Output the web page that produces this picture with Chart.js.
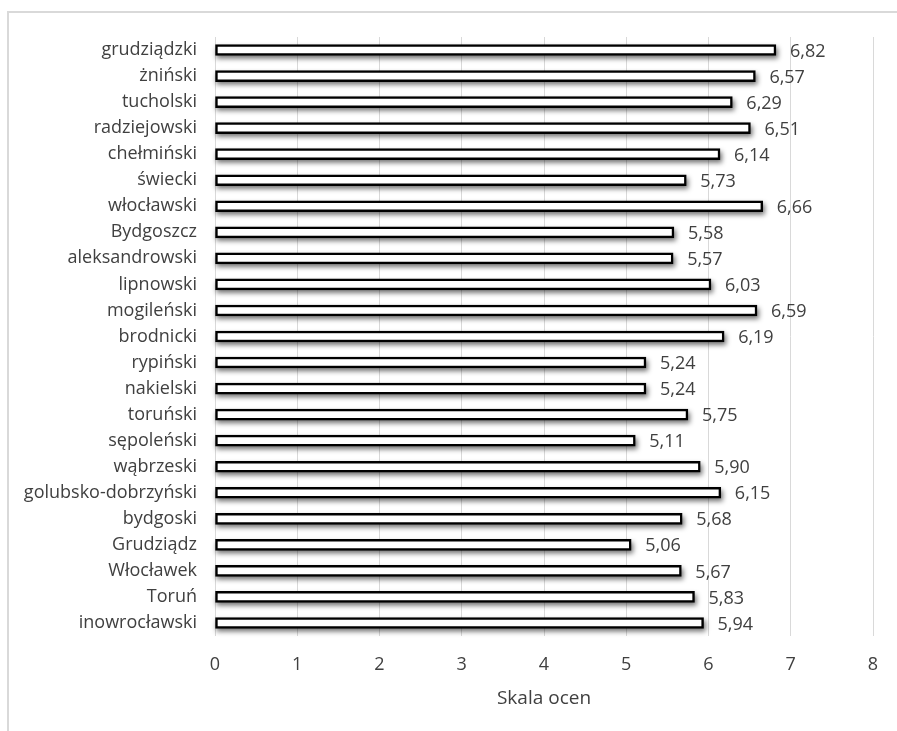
<!DOCTYPE html>
<html lang="pl">
<head>
<meta charset="utf-8">
<title>Skala ocen – powiaty</title>
<script src="https://cdn.jsdelivr.net/npm/chart.js@4/dist/chart.umd.min.js"></script>
<style>
  html, body { margin: 0; padding: 0; background: #fff; }
  #wrap { position: relative; width: 897px; height: 731px; }
  #frame {
    position: absolute; left: 7px; top: 11px; right: 0; bottom: 0;
    border-top: 2px solid #d9d9d9; border-left: 2px solid #d9d9d9;
  }
  canvas { position: absolute; left: 0; top: 0; }
</style>
</head>
<body>
<div id="wrap">
  <div id="frame"></div>
  <canvas id="chart" width="897" height="731"></canvas>
</div>
<script>
// Powiaty i miasta na prawach powiatu
const categories = [
  'grudziądzki', 'żniński', 'tucholski', 'radziejowski', 'chełmiński',
  'świecki', 'włocławski', 'Bydgoszcz', 'aleksandrowski', 'lipnowski',
  'mogileński', 'brodnicki', 'rypiński', 'nakielski', 'toruński',
  'sępoleński', 'wąbrzeski', 'golubsko-dobrzyński', 'bydgoski', 'Grudziądz',
  'Włocławek', 'Toruń', 'inowrocławski'
];

// Średnia ocena
const scores = [
  6.82, 6.57, 6.29, 6.51, 6.14,
  5.73, 6.66, 5.58, 5.57, 6.03,
  6.59, 6.19, 5.24, 5.24, 5.75,
  5.11, 5.90, 6.15, 5.68, 5.06,
  5.67, 5.83, 5.94
];

const xTicks = [0, 1, 2, 3, 4, 5, 6, 7, 8];
const axisTitle = 'Skala ocen';

const FONT = '"Open Sans", "Noto Sans", "DejaVu Sans", sans-serif';
const TEXT = '#404040';

const fmt = v => v.toFixed(2).replace('.', ',');

// Soft drop shadow painted beneath each bar (the bar element clips its own drawing)
const barShadow = {
  id: 'barShadow',
  beforeDatasetDraw(chart, args) {
    const ctx = chart.ctx;
    ctx.save();
    ctx.filter = 'blur(2.5px)';
    ctx.fillStyle = 'rgba(0,0,0,0.55)';
    args.meta.data.forEach(bar => {
      const { x, y, base, height } = bar.getProps(['x', 'y', 'base', 'height'], true);
      const left = Math.min(x, base);
      const w = Math.abs(x - base);
      ctx.fillRect(left + 1, y - height / 2 + 3, w + 1, height);
    });
    ctx.restore();
  }
};

// Value labels to the right of each bar
const valueLabels = {
  id: 'valueLabels',
  afterDatasetsDraw(chart) {
    const ctx = chart.ctx;
    const meta = chart.getDatasetMeta(0);
    const data = chart.data.datasets[0].data;
    ctx.save();
    ctx.font = '18px ' + FONT;
    ctx.fillStyle = TEXT;
    ctx.textAlign = 'left';
    ctx.textBaseline = 'middle';
    meta.data.forEach((bar, i) => {
      ctx.fillText(fmt(data[i]), bar.x + 14, bar.y + 1.5);
    });
    ctx.restore();
  }
};

new Chart(document.getElementById('chart'), {
  type: 'bar',
  data: {
    labels: categories,
    datasets: [{
      data: scores,
      backgroundColor: '#ffffff',
      borderColor: '#000000',
      borderWidth: 2.5,
      borderSkipped: false,
      barThickness: 11
    }]
  },
  options: {
    indexAxis: 'y',
    responsive: false,
    animation: false,
    layout: { padding: { top: 37, right: 24, bottom: 0, left: 0 } },
    plugins: {
      legend: { display: false },
      tooltip: { enabled: false }
    },
    scales: {
      x: {
        min: 0,
        max: 8,
        afterBuildTicks: s => { s.ticks = xTicks.map(v => ({ value: v })); },
        grid: { color: '#d9d9d9', lineWidth: 1, drawTicks: false },
        border: { display: false },
        ticks: {
          color: TEXT,
          font: { family: FONT, size: 18 },
          padding: 18
        },
        title: {
          display: true,
          text: axisTitle,
          color: TEXT,
          font: { family: FONT, size: 19 },
          padding: { top: 0, bottom: 21 }
        },
        afterFit: s => { s.height = 95; }
      },
      y: {
        grid: { display: false, drawTicks: false },
        border: { display: false },
        ticks: {
          color: TEXT,
          font: { family: FONT, size: 18 },
          padding: 18
        },
        afterFit: s => { s.width = 215; }
      }
    }
  },
  plugins: [barShadow, valueLabels]
});
</script>
</body>
</html>
